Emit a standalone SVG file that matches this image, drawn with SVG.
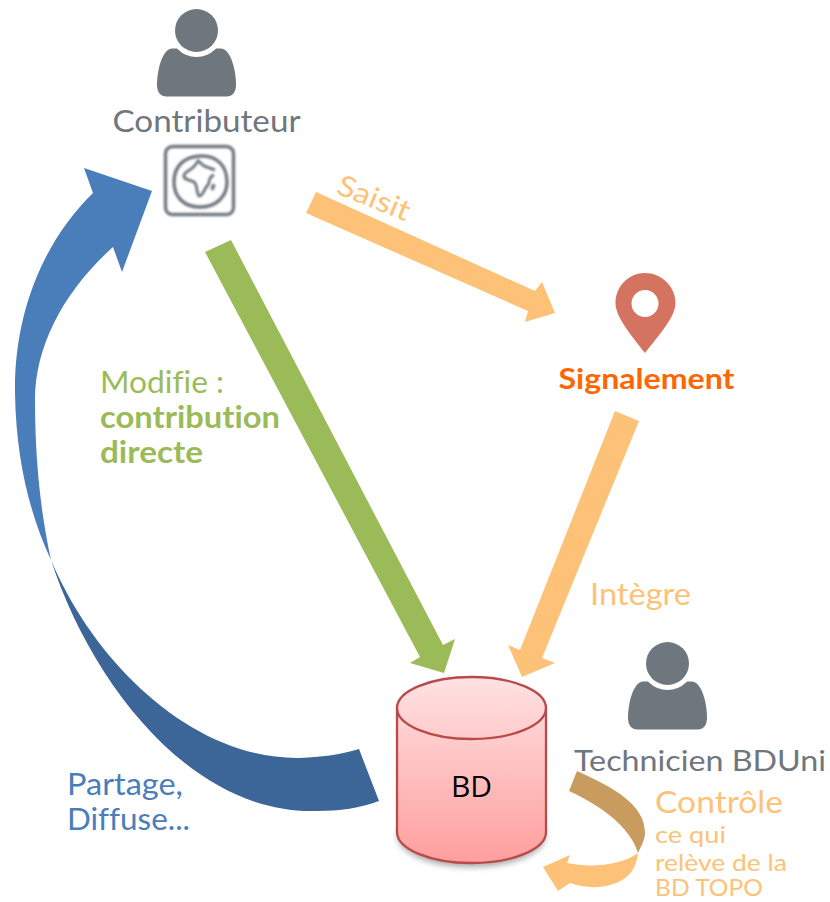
<svg xmlns="http://www.w3.org/2000/svg" width="830" height="902" viewBox="0 0 830 902">
<style>
text{font-family:"Lato","Noto Sans","Liberation Sans",sans-serif;font-variant-ligatures:none}
.grey{fill:#6f777e}
.or{fill:#fdc277}
.gr{fill:#9bbb59}
.bl{fill:#4a7ebb}
</style>
<defs>
<linearGradient id="cyl" x1="0" y1="0" x2="0" y2="1"><stop offset="0" stop-color="#ffe2e2"/><stop offset="1" stop-color="#ff9e9e"/></linearGradient>
<filter id="soft" x="-20%" y="-20%" width="140%" height="140%"><feGaussianBlur stdDeviation="0.8"/></filter>
<filter id="shadow" x="-20%" y="-20%" width="140%" height="140%"><feGaussianBlur stdDeviation="3"/></filter>
<g id="person">
<path d="M-39.500 54C-39.500 42 -35 18 -24 18H24C35 18 39.500 42 39.500 54C39.500 62 36 66 30 66H-30C-36 66 -39.500 62 -39.500 54Z" fill="#6f777e"/>
<circle cx="0" cy="0" r="26.500" fill="#fff"/>
<circle cx="0" cy="0" r="21.500" fill="#6f777e"/>
</g>
</defs>
<rect width="830" height="902" fill="#fff"/>
<g id="connectors">
<path d="M93 193L84 168L152 191L122 272L113 247C65 290 35 345 35 400C35 455 40 510 51 560C30 515 16 460 15 393C14 310 45 240 93 193Z" fill="#4a7ebb"/>
<path d="M51 560C95 665 195 760 300 758C320 757 340 755 359 749L379 801C360 808 340 811 317 811C190 815 90 680 51 560Z" fill="#3c6697"/>
<path d="M231 240L443 645L455 639L444 673L410 663L420 657L205 252Z" fill="#9bbb59"/>
<path d="M316 192L535 291L542 282L555 313L525 322L528 311L306 213Z" fill="#fdc277"/>
<path d="M639 421L542 658L555 663L522 677L508 645L520 650L615 411Z" fill="#fdc277"/>
<path d="M577 771C615 788 645 805 645 833C645 840 641 846 638 853C632 832 610 810 569 791Z" fill="#c89b5e"/>
<path d="M638 853C636 870 628 880 610 885C595 889 582 887 570 883L558 891L543 867L570 855L567 863C590 868 620 866 638 853Z" fill="#fdc277"/>
</g>
<g id="contributeur">
<use href="#person" x="196.500" y="30.500"/>
<text x="206.500" y="132" font-size="30" text-anchor="middle" class="grey" textLength="188" lengthAdjust="spacingAndGlyphs">Contributeur</text>
<g fill="none" stroke="#727a80" filter="url(#soft)">
<rect x="165.500" y="146.500" width="68" height="68" rx="7" stroke-width="3.500"/>
<path d="M200 156C217 155 227 166 227 182C227 197 216 207 200 207C184 207 174 197 174 182C174 166 184 157 200 156Z" stroke-width="3.500"/>
<path d="M197 160L204 166L215 170" stroke-width="3"/>
<path d="M197 162C194 170 186 170 184 175C183 180 191 180 194 182C198 185 196 193 199 196C203 197 204 188 208 185C210 182 208 177 214 175" stroke-width="3"/>
<path d="M214 184L212 190" stroke-width="3.500"/>
</g>
</g>
<g id="signalement">
<path d="M645 273C661 273 675.500 286 675.500 303C675.500 317 659 335 645 353C631 335 615.500 317 615.500 303C615.500 286 629 273 645 273ZM645 290A13.500 13.500 0 1 0 645 317A13.500 13.500 0 1 0 645 290Z" fill="#d47460" fill-rule="evenodd"/>
<text x="646.500" y="389" font-size="28" font-weight="700" text-anchor="middle" fill="#ff6600" textLength="176" lengthAdjust="spacingAndGlyphs">Signalement</text>
</g>
<g id="bd">
<ellipse cx="471.500" cy="836" rx="74" ry="31" fill="#000" opacity="0.35" filter="url(#shadow)"/>
<path d="M397 708V832C397 849 430 863 471.500 863C513 863 546 849 546 832V708C546 691 513 677 471.500 677C430 677 397 691 397 708Z" fill="url(#cyl)" stroke="#b84a4a" stroke-width="2.300"/>
<path d="M397 708C397 725 430 739 471.500 739C513 739 546 725 546 708" fill="none" stroke="#b84a4a" stroke-width="2.300"/>
<text x="471.500" y="797" font-size="30" text-anchor="middle" fill="#000" style="font-family:'Open Sans','Liberation Sans',sans-serif">BD</text>
</g>
<g id="technicien">
<use href="#person" x="667.500" y="663.500"/>
<text x="700" y="771" font-size="29" text-anchor="middle" class="grey" textLength="252" lengthAdjust="spacingAndGlyphs">Technicien BDUni</text>
</g>
<g id="labels">
<text transform="translate(335 193) rotate(22)" font-size="29" class="or" textLength="76" lengthAdjust="spacingAndGlyphs">Saisit</text>
<text x="100" y="393" font-size="30" class="gr" textLength="124" lengthAdjust="spacingAndGlyphs">Modifie :</text>
<text x="100" y="428" font-size="30" font-weight="700" class="gr" textLength="180" lengthAdjust="spacingAndGlyphs">contribution</text>
<text x="100" y="463" font-size="30" font-weight="700" class="gr" textLength="103" lengthAdjust="spacingAndGlyphs">directe</text>
<text x="590" y="605" font-size="30" class="or" textLength="101" lengthAdjust="spacingAndGlyphs">Intègre</text>
<text x="67" y="795" font-size="30" class="bl" textLength="116" lengthAdjust="spacingAndGlyphs">Partage,</text>
<text x="67" y="830" font-size="30" class="bl" textLength="123" lengthAdjust="spacingAndGlyphs">Diffuse...</text>
<text x="655" y="813" font-size="31" class="or" textLength="128" lengthAdjust="spacingAndGlyphs">Contrôle</text>
<text x="655" y="843" font-size="24" class="or" textLength="71" lengthAdjust="spacingAndGlyphs">ce qui</text>
<text x="655" y="871" font-size="24" class="or" textLength="132" lengthAdjust="spacingAndGlyphs">relève de la</text>
<text x="655" y="896" font-size="24" class="or" textLength="108" lengthAdjust="spacingAndGlyphs">BD TOPO</text>
</g>
</svg>
